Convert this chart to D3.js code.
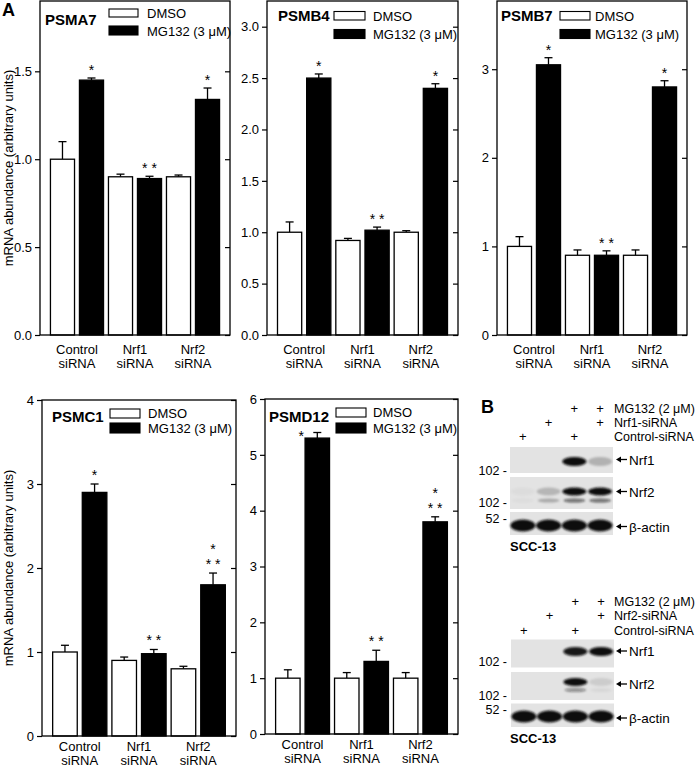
<!DOCTYPE html>
<html><head><meta charset="utf-8">
<script src="https://cdn.jsdelivr.net/npm/d3@7"></script>
<style>
body{margin:0;background:#fff}
svg{display:block}
text{font-family:Arial,"Liberation Sans",sans-serif;fill:#000}
</style>
</head><body>
<svg id="chart" width="700" height="766"></svg>
<script>
// ---------------- DATA ----------------
const categories = ["Control", "Nrf1", "Nrf2"];
const categorySub = "siRNA";
const legendLabels = ["DMSO", "MG132 (3 μM)"];

const psma7Dmso = [1.0, 0.90, 0.90];
const psma7DmsoErr = [0.10, 0.015, 0.01];
const psma7Mg = [1.45, 0.89, 1.34];
const psma7MgErr = [0.012, 0.013, 0.065];

const psmb4Dmso = [1.0, 0.92, 1.0];
const psmb4DmsoErr = [0.10, 0.02, 0.015];
const psmb4Mg = [2.5, 1.02, 2.4];
const psmb4MgErr = [0.04, 0.03, 0.045];

const psmb7Dmso = [1.0, 0.90, 0.90];
const psmb7DmsoErr = [0.11, 0.06, 0.06];
const psmb7Mg = [3.05, 0.90, 2.8];
const psmb7MgErr = [0.08, 0.05, 0.07];

const psmc1Dmso = [1.0, 0.90, 0.80];
const psmc1DmsoErr = [0.08, 0.04, 0.03];
const psmc1Mg = [2.9, 0.98, 1.8];
const psmc1MgErr = [0.10, 0.05, 0.14];

const psmd12Dmso = [1.0, 1.0, 1.0];
const psmd12DmsoErr = [0.15, 0.10, 0.10];
const psmd12Mg = [5.3, 1.3, 3.8];
const psmd12MgErr = [0.10, 0.20, 0.09];

const starsTop = [["*"], ["* *"], ["*"]];
const starsBottom = [["*"], ["* *"], ["*", "* *"]];

const ticksPsma7 = [0, 0.5, 1.0, 1.5];
const ticksPsmb4 = [0, 0.5, 1.0, 1.5, 2.0, 2.5, 3.0];
const ticksPsmb7 = [0, 1, 2, 3];
const ticksPsmc1 = [0, 1, 2, 3, 4];
const ticksPsmd12 = [0, 1, 2, 3, 4, 5, 6];

const yLabel = "mRNA abundance (arbitrary units)";

// Western blot (panel B)
const lanes = [0, 1, 2, 3];
const blot1RowLabels = ["MG132 (2 μM)", "Nrf1-siRNA", "Control-siRNA"];
const blot1Plus = [[0, 0, 1, 1], [0, 1, 0, 1], [1, 0, 1, 0]];
const blot1Nrf1 = [0, 0, 1.0, 0.22];
const blot1Nrf2Upper = [0.03, 0.2, 1.0, 1.0];
const blot1Nrf2Lower = [0.03, 0.25, 0.55, 0.55];
const blot1Actin = [1, 1, 1, 1];

const blot2RowLabels = ["MG132 (2 μM)", "Nrf2-siRNA", "Control-siRNA"];
const blot2Plus = [[0, 0, 1, 1], [0, 1, 0, 1], [1, 0, 1, 0]];
const blot2Nrf1 = [0, 0, 0.95, 1.0];
const blot2Nrf2Upper = [0, 0, 1.0, 0.1];
const blot2Nrf2Lower = [0, 0, 0.4, 0.05];
const blot2Actin = [1, 1, 1, 1];

const blotBandNames = ["Nrf1", "Nrf2", "β-actin"];
const markerLabels = ["102 -", "102 -", "52 -"];
const cellLine = "SCC-13";

// ---------------- DRAWING ----------------
const svg = d3.select("#chart");
const defs = svg.append("defs");
defs.append("filter").attr("id", "blur").attr("x", "-50%").attr("y", "-100%").attr("width", "200%").attr("height", "300%")
  .append("feGaussianBlur").attr("stdDeviation", 1.3);

function panel(cfg) {
  const g = svg.append("g");
  const x = d3.scaleBand().domain(d3.range(6)).range([cfg.x0, cfg.x1]).paddingInner(0.17).paddingOuter(0.36);
  const y = d3.scaleLinear().domain([0, cfg.ymax]).range([cfg.yb, cfg.yt]);

  const bars = [];
  categories.forEach((c, i) => {
    bars.push({ idx: 2 * i, v: cfg.dmso[i], e: cfg.dErr[i], fill: "#fff", stars: null });
    bars.push({ idx: 2 * i + 1, v: cfg.mg[i], e: cfg.mErr[i], fill: "#000", stars: cfg.stars[i], cat: i });
  });

  bars.forEach(b => {
    const cx = x(b.idx) + x.bandwidth() / 2;
    g.append("line").attr("x1", cx).attr("x2", cx).attr("y1", y(b.v)).attr("y2", y(b.v + b.e))
      .attr("stroke", "#000").attr("stroke-width", 1.3);
    g.append("line").attr("x1", cx - 4).attr("x2", cx + 4).attr("y1", y(b.v + b.e)).attr("y2", y(b.v + b.e))
      .attr("stroke", "#000").attr("stroke-width", 1.3);
  });
  g.selectAll("rect.bar").data(bars).enter().append("rect").attr("class", "bar")
    .attr("x", d => x(d.idx)).attr("width", x.bandwidth())
    .attr("y", d => y(d.v)).attr("height", d => y(0) - y(d.v))
    .attr("fill", d => d.fill).attr("stroke", "#000").attr("stroke-width", 1.3);

  bars.filter(b => b.stars).forEach(b => {
    let cx = x(b.idx) + x.bandwidth() / 2;
    let top = y(b.v + b.e);
    const sp = (cfg.starShift && cfg.starShift[b.cat]) || [0, 0];
    cx += sp[0]; top += sp[1];
    const n = b.stars.length;
    b.stars.forEach((s, k) => {
      const centerY = top - cfg.starGap - (n - 1 - k) * 15;
      g.append("text").attr("x", cx).attr("y", centerY + 9).attr("text-anchor", "middle")
        .attr("font-size", 14).text(s);
    });
  });

  g.append("rect").attr("x", cfg.x0).attr("y", cfg.yt).attr("width", cfg.x1 - cfg.x0).attr("height", cfg.yb - cfg.yt)
    .attr("fill", "none").attr("stroke", "#000").attr("stroke-width", 1.3);

  const ax = g.append("g").attr("transform", `translate(${cfg.x0},0)`)
    .call(d3.axisLeft(y).tickValues(cfg.ticks).tickSize(5).tickPadding(3).tickFormat(d3.format(cfg.fmt)));
  ax.select(".domain").remove();
  ax.selectAll("text").attr("font-size", 13).attr("font-family", "Arial, 'Liberation Sans', sans-serif").attr("fill", "#000");
  ax.selectAll("line").attr("stroke-width", 1.2);
  const ax2 = g.append("g").attr("transform", `translate(${cfg.x1},0)`)
    .call(d3.axisLeft(y).tickValues(cfg.ticks).tickSize(5).tickFormat(""));
  ax2.select(".domain").remove();
  ax2.selectAll("line").attr("stroke-width", 1.2);

  categories.forEach((c, i) => {
    const cx = (x(2 * i) + x(2 * i + 1) + x.bandwidth()) / 2;
    g.append("text").attr("x", cx).attr("y", cfg.yb + cfg.catDy[0]).attr("text-anchor", "middle").attr("font-size", 13).text(c);
    g.append("text").attr("x", cx).attr("y", cfg.yb + cfg.catDy[1]).attr("text-anchor", "middle").attr("font-size", 13).text(categorySub);
  });

  g.append("text").attr("x", cfg.titleX).attr("y", cfg.yt + cfg.titleDy).attr("font-size", 15).attr("font-weight", "bold").text(cfg.title);
  const L = cfg.legend;
  g.append("rect").attr("x", L.x).attr("y", cfg.yt + L.r1[0]).attr("width", L.w).attr("height", L.r1[1] - L.r1[0])
    .attr("fill", "#fff").attr("stroke", "#000").attr("stroke-width", 1.1);
  g.append("rect").attr("x", L.x).attr("y", cfg.yt + L.r2[0]).attr("width", L.w).attr("height", L.r2[1] - L.r2[0])
    .attr("fill", "#000").attr("stroke", "#000").attr("stroke-width", 1.1);
  g.append("text").attr("x", L.tx).attr("y", cfg.yt + L.t1).attr("font-size", 13).text(legendLabels[0]);
  g.append("text").attr("x", L.tx).attr("y", cfg.yt + L.t2).attr("font-size", 13).text(legendLabels[1]);

  if (cfg.ylabel) {
    const cy = (cfg.yt + cfg.yb) / 2;
    g.append("text").attr("transform", `translate(${cfg.ylabelX},${cy}) rotate(-90)`)
      .attr("text-anchor", "middle").attr("font-size", 13).text(yLabel);
  }
}

svg.append("text").attr("x", 2).attr("y", 16).attr("font-size", 18).attr("font-weight", "bold").text("A");

const topRow = { yt: 1, yb: 335, catDy: [19, 33], starGap: 12 };
const botRow = { catDy: [15, 28.5], starGap: 13 };

panel(Object.assign({}, topRow, {
  x0: 40, x1: 230, ymax: 1.9, ticks: ticksPsma7, fmt: ".1f", title: "PSMA7", titleX: 45, titleDy: 24,
  dmso: psma7Dmso, dErr: psma7DmsoErr, mg: psma7Mg, mErr: psma7MgErr, stars: starsTop,
  legend: { x: 109, w: 29, tx: 147, r1: [8, 16], r2: [25, 34], t1: 17, t2: 35 },
  ylabel: true, ylabelX: 13
}));
panel(Object.assign({}, topRow, {
  x0: 267, x1: 458, ymax: 3.25, ticks: ticksPsmb4, fmt: ".1f", title: "PSMB4", titleX: 278, titleDy: 20,
  dmso: psmb4Dmso, dErr: psmb4DmsoErr, mg: psmb4Mg, mErr: psmb4MgErr, stars: starsTop,
  legend: { x: 334, w: 31, tx: 373, r1: [10.5, 19], r2: [28.5, 37.5], t1: 20, t2: 38 }
}));
panel(Object.assign({}, topRow, {
  x0: 497, x1: 687, ymax: 3.77, ticks: ticksPsmb7, fmt: "d", title: "PSMB7", titleX: 501, titleDy: 20,
  dmso: psmb7Dmso, dErr: psmb7DmsoErr, mg: psmb7Mg, mErr: psmb7MgErr, stars: starsTop,
  legend: { x: 560, w: 30, tx: 595, r1: [10.5, 19], r2: [28.5, 37.5], t1: 20, t2: 38 }
}));
panel(Object.assign({}, botRow, {
  x0: 42, x1: 236, yt: 400, yb: 736, ymax: 4, ticks: ticksPsmc1, fmt: "d", title: "PSMC1", titleX: 52, titleDy: 22,
  dmso: psmc1Dmso, dErr: psmc1DmsoErr, mg: psmc1Mg, mErr: psmc1MgErr, stars: starsBottom,
  legend: { x: 110, w: 30, tx: 148, r1: [9, 18], r2: [23, 33], t1: 18, t2: 33 },
  ylabel: true, ylabelX: 13
}));
panel(Object.assign({}, botRow, {
  x0: 265, x1: 458, yt: 399, yb: 734, ymax: 6, ticks: ticksPsmd12, fmt: "d", title: "PSMD12", titleX: 269, titleDy: 23,
  dmso: psmd12Dmso, dErr: psmd12DmsoErr, mg: psmd12Mg, mErr: psmd12MgErr, stars: starsBottom,
  starShift: { 0: [-16, 12] },
  legend: { x: 336, w: 30, tx: 373, r1: [9, 18], r2: [24, 34], t1: 18, t2: 34 }
}));

// ---------------- Panel B: western blots ----------------
svg.append("text").attr("x", 481).attr("y", 413).attr("font-size", 18).attr("font-weight", "bold").text("B");

function blot(cfg) {
  const g = svg.append("g");
  const lx = d3.scaleBand().domain(lanes).range([cfg.x0, cfg.x1]);
  const lc = l => lx(l) + lx.bandwidth() / 2;

  cfg.plus.forEach((row, r) => {
    row.forEach((p, l) => {
      if (p) g.append("text").attr("x", lc(l)).attr("y", cfg.rowY[r] + 5).attr("text-anchor", "middle").attr("font-size", 13).text("+");
    });
    g.append("text").attr("x", 614).attr("y", cfg.rowY[r] + 5).attr("font-size", 12.5).text(cfg.rowLabels[r]);
  });

  cfg.boxes.forEach(b => {
    g.append("rect").attr("x", cfg.x0).attr("y", b[0]).attr("width", cfg.x1 - cfg.x0).attr("height", b[1] - b[0]).attr("fill", "#e3e3e3");
  });
  const bandG = g.append("g").attr("filter", "url(#blur)");
  function bands(vals, cy, ry, rx) {
    vals.forEach((v, l) => {
      if (v <= 0) return;
      bandG.append("ellipse").attr("cx", lc(l)).attr("cy", cy).attr("rx", rx).attr("ry", ry)
        .attr("fill", "#111").attr("opacity", v);
    });
  }
  bands(cfg.nrf1, cfg.bandY[0], 4.5, 12);
  bands(cfg.nrf2u, cfg.bandY[1], 4, 12);
  bands(cfg.nrf2l, cfg.bandY[2], 2, 11);
  bands(cfg.actin, cfg.bandY[3], 6, 12.5);

  cfg.markerY.forEach((my, i) => {
    g.append("text").attr("x", 507).attr("y", my + 4.5).attr("text-anchor", "end").attr("font-size", 12.5).text(markerLabels[i]);
  });
  cfg.arrowY.forEach((ay, i) => {
    g.append("line").attr("x1", 619).attr("x2", 627).attr("y1", ay).attr("y2", ay).attr("stroke", "#000").attr("stroke-width", 1.3);
    g.append("path").attr("d", `M616,${ay} L621,${ay - 3} L621,${ay + 3} Z`).attr("fill", "#000");
    g.append("text").attr("x", 629).attr("y", ay + 5).attr("font-size", 13.5).text(blotBandNames[i]);
  });
  g.append("text").attr("x", 510).attr("y", cfg.cellY).attr("font-size", 13).attr("font-weight", "bold").text(cellLine);
}

blot({
  x0: 510, x1: 613, plus: blot1Plus, rowLabels: blot1RowLabels, rowY: [408, 422, 436],
  boxes: [[447, 473], [477, 509], [512, 535]],
  nrf1: blot1Nrf1, nrf2u: blot1Nrf2Upper, nrf2l: blot1Nrf2Lower, actin: blot1Actin,
  bandY: [461.5, 491.5, 500.5, 525.5],
  markerY: [470, 502.5, 518.5], arrowY: [459.5, 491.5, 526.5], cellY: 551
});
blot({
  x0: 511, x1: 614, plus: blot2Plus, rowLabels: blot2RowLabels, rowY: [600.5, 615, 629.5],
  boxes: [[639.5, 667.5], [672, 700], [703.5, 727]],
  nrf1: blot2Nrf1, nrf2u: blot2Nrf2Upper, nrf2l: blot2Nrf2Lower, actin: blot2Actin,
  bandY: [651.5, 682, 690, 716.5],
  markerY: [661.5, 695.5, 709.5], arrowY: [651, 684, 718], cellY: 743
});
</script>
</body></html>
